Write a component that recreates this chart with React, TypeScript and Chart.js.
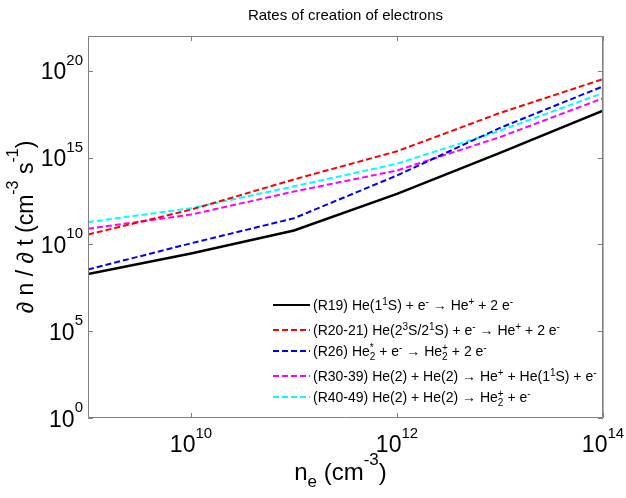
import { useEffect, useRef } from "react";
import { Chart, registerables } from "chart.js";

Chart.register(...registerables);

// ---- data ----
const densities = [1e9, 1e10, 1e11, 1e12, 1e13, 1e14];
const rateR19 = [1.95e8, 3.0e9, 6.3e10, 8.1e12, 1.86e15, 5.0e17];
const rateR20_21 = [3.7e10, 1.0e12, 5.5e13, 2.3e15, 3.7e17, 3.3e19];
const rateR26 = [3.6e8, 1.15e10, 3.2e11, 9.3e13, 5.1e16, 1.26e19];
const rateR30_39 = [7.9e10, 5.2e11, 1.1e13, 1.8e14, 1.5e16, 2.6e18];
const rateR40_49 = [1.9e11, 1.2e12, 2.2e13, 4.4e14, 3.5e16, 5.2e18];

const seriesLabels = [
  "(R19) He(1^1S) + e^- \\rightarrow He^+ + 2 e^-",
  "(R20-21) He(2^3S/2^1S) + e^- \\rightarrow He^+ + 2 e^-",
  "(R26) He_2^* + e^- \\rightarrow He_2^+ + 2 e^-",
  "(R30-39) He(2) + He(2) \\rightarrow He^+ + He(1^1S) + e^-",
  "(R40-49) He(2) + He(2) \\rightarrow He_2^+ + e^-",
];
const seriesColors = ["#000000", "#ff0000", "#0000ff", "#ff00ff", "#00ffff"];
const seriesValues = [rateR19, rateR20_21, rateR26, rateR30_39, rateR40_49];

const xTickValues = [1e10, 1e12, 1e14];
const xTickLabels = ["10^{10}", "10^{12}", "10^{14}"];
const yTickValues = [1e0, 1e5, 1e10, 1e15, 1e20];
const yTickLabels = ["10^{0}", "10^{5}", "10^{10}", "10^{15}", "10^{20}"];

const titleText = "Rates of creation of electrons";
const xTitle = "n_e (cm^{-3})";
const yTitle = "\u2202 n / \u2202 t (cm^{-3} s^{-1})";

const FONT = "'Liberation Sans', Arial, Helvetica, sans-serif";

type Tok = { t: string; k: "n" | "sup" | "sub" };

function parseTex(src: string): Tok[] {
  const s = src.replace(/\\rightarrow\s?/g, "\u2192 ");
  const out: Tok[] = [];
  let buf = "";
  let i = 0;
  while (i < s.length) {
    const c = s[i];
    if (c === "^" || c === "_") {
      if (buf) {
        out.push({ t: buf, k: "n" });
        buf = "";
      }
      let arg = "";
      if (s[i + 1] === "{") {
        const j = s.indexOf("}", i + 2);
        arg = s.slice(i + 2, j);
        i = j + 1;
      } else {
        arg = s[i + 1];
        i += 2;
      }
      out.push({ t: arg, k: c === "^" ? "sup" : "sub" });
    } else {
      buf += c;
      i++;
    }
  }
  if (buf) out.push({ t: buf, k: "n" });
  return out;
}

interface TexOpts {
  size: number;
  small: number;
  raise: number;
  drop: number;
  align: "left" | "center" | "right";
}

function drawTex(ctx: CanvasRenderingContext2D, s: string, x: number, y: number, o: TexOpts) {
  const toks = parseTex(s);
  const items: { t: string; k: string; x: number }[] = [];
  let w = 0;
  for (let i = 0; i < toks.length; i++) {
    const tk = toks[i];
    if (tk.k === "n") {
      ctx.font = `${o.size}px ${FONT}`;
      items.push({ ...tk, x: w });
      w += ctx.measureText(tk.t).width;
    } else {
      ctx.font = `${o.small}px ${FONT}`;
      let tw = ctx.measureText(tk.t).width;
      items.push({ ...tk, x: w });
      const nx = toks[i + 1];
      if (nx && nx.k !== "n" && nx.k !== tk.k) {
        tw = Math.max(tw, ctx.measureText(nx.t).width);
        items.push({ ...nx, x: w });
        i++;
      }
      w += tw;
    }
  }
  const x0 = o.align === "left" ? x : o.align === "center" ? x - w / 2 : x - w;
  ctx.textAlign = "left";
  ctx.textBaseline = "alphabetic";
  for (const it of items) {
    if (it.k === "n") {
      ctx.font = `${o.size}px ${FONT}`;
      ctx.fillText(it.t, x0 + it.x, y);
    } else if (it.k === "sup") {
      ctx.font = `${o.small}px ${FONT}`;
      ctx.fillText(it.t, x0 + it.x, y - o.raise);
    } else {
      ctx.font = `${o.small}px ${FONT}`;
      ctx.fillText(it.t, x0 + it.x, y + o.drop);
    }
  }
  return w;
}

const decorPlugin = {
  id: "matlabDecor",
  afterDraw(chart: any) {
    const ctx: CanvasRenderingContext2D = chart.ctx;
    const { left, right, top, bottom } = chart.chartArea;
    const xs = chart.scales.x;
    const ys = chart.scales.y;
    ctx.save();

    // axes box
    ctx.strokeStyle = "#7f7f7f";
    ctx.lineWidth = 1;
    ctx.beginPath();
    ctx.moveTo(left + 0.5, top + 0.5);
    ctx.lineTo(right - 0.5, top + 0.5);
    ctx.lineTo(right - 0.5, bottom - 0.5);
    ctx.lineTo(left + 0.5, bottom - 0.5);
    ctx.closePath();
    ctx.stroke();
    ctx.strokeStyle = "#b4b4b4";
    ctx.beginPath();
    ctx.moveTo(right + 0.5, top);
    ctx.lineTo(right + 0.5, bottom);
    ctx.stroke();
    ctx.strokeStyle = "#7f7f7f";

    // ticks (inward)
    const tl = 5;
    ctx.beginPath();
    xTickValues.forEach((v) => {
      const px = Math.round(xs.getPixelForValue(v)) + 0.5;
      ctx.moveTo(px, bottom);
      ctx.lineTo(px, bottom - tl);
      ctx.moveTo(px, top);
      ctx.lineTo(px, top + tl);
    });
    yTickValues.forEach((v) => {
      const py = Math.round(ys.getPixelForValue(v)) + 0.5;
      ctx.moveTo(left, py);
      ctx.lineTo(left + tl, py);
      ctx.moveTo(right, py);
      ctx.lineTo(right - tl, py);
    });
    ctx.stroke();

    ctx.fillStyle = "#000000";
    // tick labels
    const tickOpts = { size: 23, small: 15, raise: 14.5, drop: 5 };
    xTickValues.forEach((v, i) => {
      const px = xs.getPixelForValue(v);
      drawTex(ctx, xTickLabels[i], px, bottom + 34, { ...tickOpts, align: "center" });
    });
    yTickValues.forEach((v, i) => {
      const py = ys.getPixelForValue(v);
      drawTex(ctx, yTickLabels[i], left - 5, py + 8.5, { ...tickOpts, align: "right" });
    });

    // title
    drawTex(ctx, titleText, (left + right) / 2, 20, { size: 15, small: 11, raise: 6, drop: 3, align: "center" });

    // x title
    drawTex(ctx, xTitle, (left + right) / 2 - 5, bottom + 62, { size: 24, small: 17, raise: 15, drop: 7, align: "center" });

    // y title
    ctx.save();
    ctx.translate(33, (top + bottom) / 2);
    ctx.rotate(-Math.PI / 2);
    drawTex(ctx, yTitle, 0, 0, { size: 23, small: 16, raise: 15, drop: 7, align: "center" });
    ctx.restore();

    // legend
    const rowsY = [305, 330, 351, 376, 397];
    const lx0 = 273;
    const lx1 = 310;
    seriesLabels.forEach((lab, i) => {
      const y = rowsY[i];
      ctx.strokeStyle = seriesColors[i];
      ctx.lineWidth = 2;
      ctx.setLineDash(i === 0 ? [] : [6, 3]);
      ctx.beginPath();
      ctx.moveTo(lx0, y);
      ctx.lineTo(lx1, y);
      ctx.stroke();
      ctx.setLineDash([]);
      ctx.fillStyle = "#000000";
      drawTex(ctx, lab, lx1 + 3, y + 5, { size: 14, small: 10, raise: 5.5, drop: 4, align: "left" });
    });

    ctx.restore();
  },
};

export default function App() {
  const ref = useRef<HTMLCanvasElement | null>(null);
  useEffect(() => {
    if (!ref.current) return;
    const chart = new Chart(ref.current, {
      type: "line",
      data: {
        datasets: seriesValues.map((vals, i) => ({
          label: seriesLabels[i],
          data: densities.map((x, j) => ({ x, y: vals[j] })),
          borderColor: seriesColors[i],
          backgroundColor: seriesColors[i],
          borderWidth: i === 0 ? 2.5 : 2,
          borderDash: i === 0 ? [] : [6, 3],
          pointRadius: 0,
          tension: 0,
          fill: false,
        })),
      },
      options: {
        animation: false,
        responsive: false,
        maintainAspectRatio: false,
        layout: { padding: { left: 88, right: 23, top: 36, bottom: 80 } },
        scales: {
          x: { type: "logarithmic", min: 1e9, max: 1e14, display: false },
          y: { type: "logarithmic", min: 1, max: 1e22, display: false },
        },
        plugins: {
          legend: { display: false },
          title: { display: false },
          tooltip: { enabled: false },
        },
      },
      plugins: [decorPlugin],
    });
    return () => chart.destroy();
  }, []);
  return (
    <div style={{ position: "fixed", left: 0, top: 0, width: 626, height: 498, background: "#ffffff" }}>
      <canvas ref={ref} width={626} height={498} style={{ width: 626, height: 498 }} />
    </div>
  );
}
